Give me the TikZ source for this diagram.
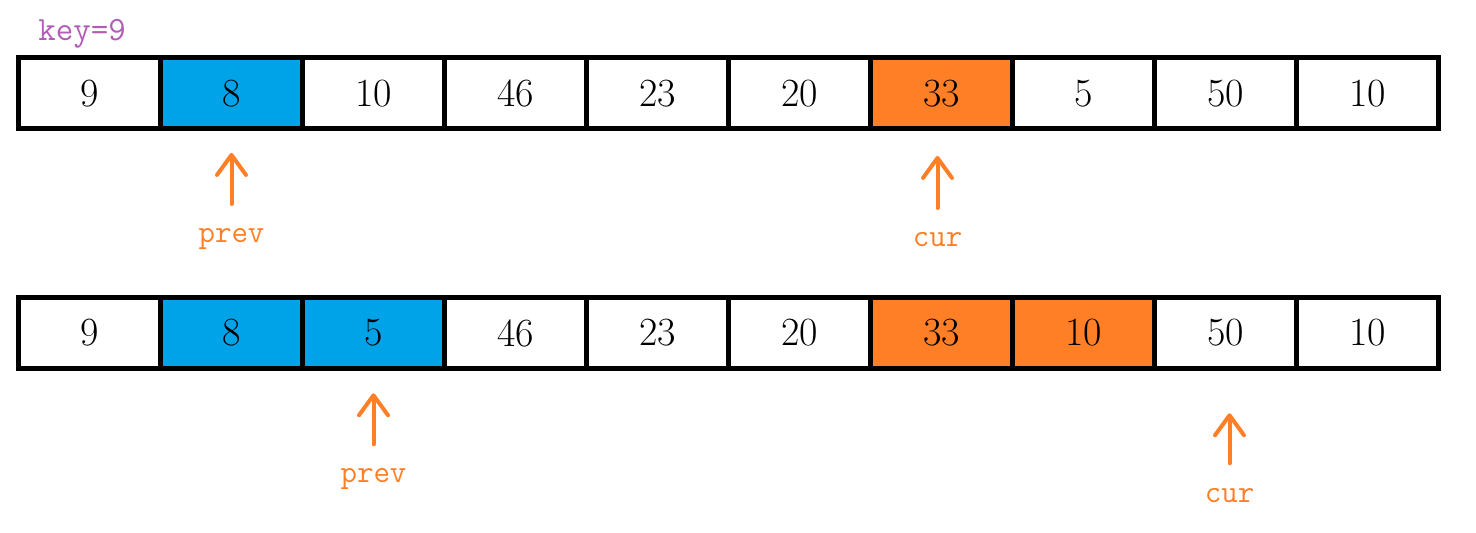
\documentclass[tikz,border=0pt]{standalone}
\usepackage{tikz}
\usetikzlibrary{arrows.meta, positioning}

\definecolor{cellblue}{HTML}{00A2E8}
\definecolor{cellorange}{HTML}{FF7F27}
\definecolor{ptrorange}{HTML}{FF7F27}
\definecolor{keypurple}{HTML}{B15DB6}

\begin{document}
\begin{tikzpicture}[
        cell/.style={draw, line width=2.5pt, minimum width=71pt, minimum height=35.75pt,
            inner sep=0pt, outer sep=0pt, font=\fontsize{20}{24}\selectfont},
        blue/.style={fill=cellblue},
        orange/.style={fill=cellorange},
        ptr/.style={-{Straight Barb[length=10pt, width=14.5pt, round]}, line width=2pt,
            color=ptrorange, line cap=round},
        ptrlabel/.style={inner sep=0pt, text=ptrorange, font=\fontsize{16}{16}\selectfont\ttfamily}
    ]
        \useasboundingbox (0,0) rectangle (738pt,-266pt);

        % Key
        \node[anchor=base west, inner sep=0pt, text=keypurple,
            font=\fontsize{17}{17}\selectfont\ttfamily] (key) at (19pt,-20pt) {key=9};

        % First row
        \node[cell] (a1) at (44.75pt,-46.6pt) {9};
        \node[cell, blue, right=0pt of a1] (a2) {8};
        \node[cell, right=0pt of a2] (a3) {10};
        \node[cell, right=0pt of a3] (a4) {46};
        \node[cell, right=0pt of a4] (a5) {23};
        \node[cell, right=0pt of a5] (a6) {20};
        \node[cell, orange, right=0pt of a6] (a7) {33};
        \node[cell, right=0pt of a7] (a8) {5};
        \node[cell, right=0pt of a8] (a9) {50};
        \node[cell, right=0pt of a9] (a10) {10};

        % Second row
        \node[cell] (b1) at (44.75pt,-166.5pt) {9};
        \node[cell, blue, right=0pt of b1] (b2) {8};
        \node[cell, blue, right=0pt of b2] (b3) {5};
        \node[cell, right=0pt of b3] (b4) {46};
        \node[cell, right=0pt of b4] (b5) {23};
        \node[cell, right=0pt of b5] (b6) {20};
        \node[cell, orange, right=0pt of b6] (b7) {33};
        \node[cell, orange, right=0pt of b7] (b8) {10};
        \node[cell, right=0pt of b8] (b9) {50};
        \node[cell, right=0pt of b9] (b10) {10};

        % Pointers, first row
        \node[ptrlabel, below=49.5pt of a2] (prevA) {prev};
        \draw[ptr, shorten <=12pt, shorten >=12pt] (prevA.north) -- (prevA.north |- a2.south);
        \node[ptrlabel, below=51.5pt of a7, xshift=-2pt] (curA) {cur};
        \draw[ptr, shorten <=12pt, shorten >=13.5pt] (curA.north) -- (curA.north |- a7.south);

        % Pointers, second row
        \node[ptrlabel, below=49.75pt of b3] (prevB) {prev};
        \draw[ptr, shorten <=12pt, shorten >=12.25pt] (prevB.north) -- (prevB.north |- b3.south);
        \node[ptrlabel, below=59.75pt of b9, xshift=2pt] (curB) {cur};
        \draw[ptr, shorten <=12.5pt, shorten >=22.25pt] (curB.north) -- (curB.north |- b9.south);
    \end{tikzpicture}
\end{document}
